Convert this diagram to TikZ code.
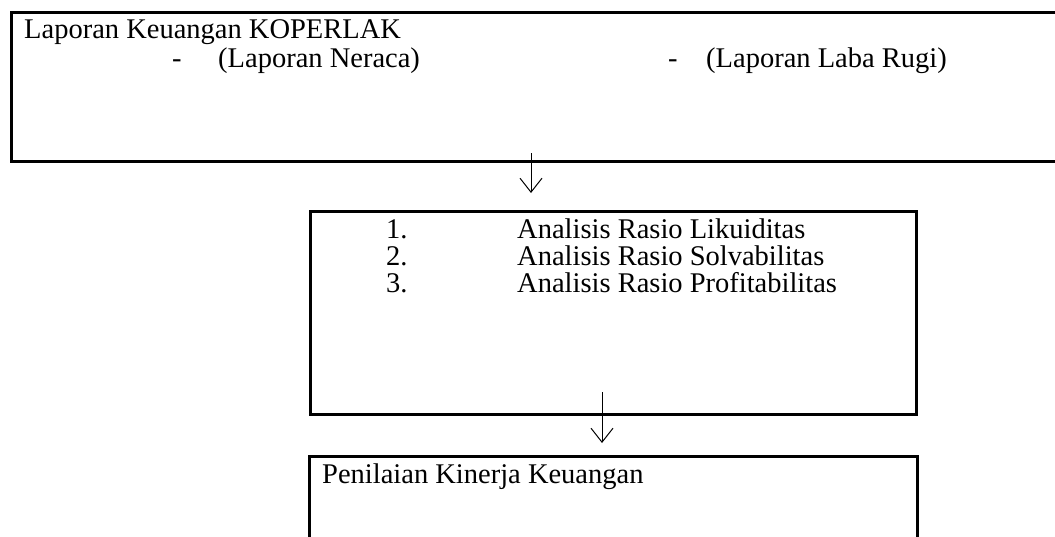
\documentclass[tikz,border=0pt]{standalone}
\usepackage{fontspec}
\setmainfont{Liberation Serif}
\usetikzlibrary{arrows.meta}
\begin{document}
\begin{tikzpicture}[x=1pt,y=-1pt,
  boxstyle/.style={draw=black,line width=2.5pt,rectangle,inner sep=0pt,anchor=north west},
  txt/.style={anchor=base west,inner sep=0pt,font=\fontsize{28.5pt}{32pt}\selectfont},
  flow/.style={draw=black,line width=1pt,-{Straight Barb[length=14pt,width=22pt,line width=1pt]}}]
\useasboundingbox (0,0) rectangle (1055,536);
\clip (0,0) rectangle (1055,536);
% boxes
\node[boxstyle,minimum width=1080pt,minimum height=149pt] (top) at (10,11) {};
\node[boxstyle,minimum width=606pt,minimum height=203pt] (mid) at (309,210) {};
\node[boxstyle,minimum width=608pt,minimum height=120pt] (bot) at (308,455) {};
% texts
\node[txt] (t1) at (24,38) {Laporan Keuangan KOPERLAK};
\node[txt] (d1) at (172,67) {-};
\node[txt] (t2) at (218,67) {(Laporan Neraca)};
\node[txt] (d2) at (668,67) {-};
\node[txt] (t3) at (706,67) {(Laporan Laba Rugi)};
\node[txt] (n1) at (386,238) {1.};
\node[txt] (a1) at (517,238) {Analisis Rasio Likuiditas};
\node[txt] (n2) at (386,265) {2.};
\node[txt] (a2) at (517,265) {Analisis Rasio Solvabilitas};
\node[txt] (n3) at (386,292) {3.};
\node[txt] (a3) at (517,292) {Analisis Rasio Profitabilitas};
\node[txt] (p1) at (322,483) {Penilaian Kinerja Keuangan};
% arrows
\coordinate (s1) at (531,153);
\coordinate (e1) at (531,193);
\coordinate (s2) at (602,392);
\coordinate (e2) at (602,443);
\draw[flow] (s1) -- (e1);
\draw[flow] (s2) -- (e2);
\end{tikzpicture}
\end{document}
